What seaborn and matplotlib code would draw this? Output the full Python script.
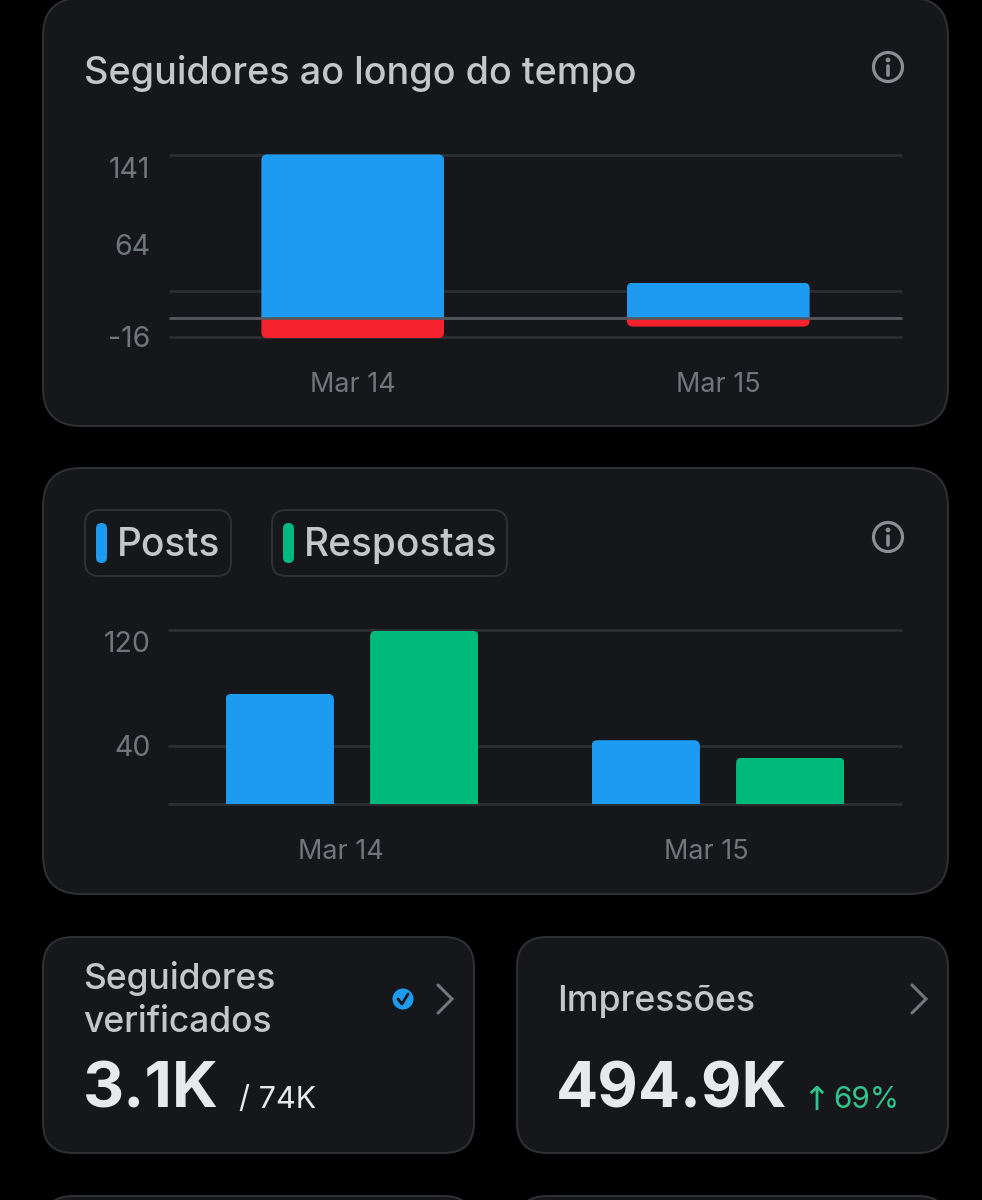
import matplotlib
matplotlib.use('Agg')
import matplotlib.pyplot as plt
import matplotlib.transforms as mtrans
from matplotlib.patches import FancyBboxPatch, Circle
import pandas as pd
import seaborn as sns

# Data
days = ['Mar 14', 'Mar 15']
gained = [141.5, 31]
lost = [-17, -7]
follower_ticks = [141, 64, -16]
follower_grid = [141, 24, -16]
posts = [76, 44]
replies = [119.5, 32]
activity_ticks = [120, 40]
activity_grid = [120, 40, 0]

BLACK = '#000000'
CARD = '#16171b'
BORDER = '#2f3135'
GRID = '#2c2e32'
ZERO = '#55585d'
BLUE = '#1d9bf0'
RED = '#f4212e'
GREEN = '#00ba7c'
TICK = '#71767b'
LABEL = '#c4c6ca'
WHITE = '#e7e9ea'
W, H = 982, 1200

sns.set_theme(style='dark')
plt.rcParams['font.family'] = ['Inter', 'DejaVu Sans']

fig = plt.figure(figsize=(W / 100, H / 100), dpi=100, facecolor=BLACK)
bg = fig.add_axes([0, 0, 1, 1])
bg.set_xlim(0, W)
bg.set_ylim(H, 0)
bg.set_facecolor(BLACK)
bg.axis('off')


def card(x0, y0, x1, y1, r=36, ec=BORDER, fc=CARD, lw=1.4):
    bg.add_patch(FancyBboxPatch((x0 + r, y0 + r), x1 - x0 - 2 * r, y1 - y0 - 2 * r,
                                boxstyle=f'round,pad={r},rounding_size={r}',
                                fc=fc, ec=ec, lw=lw))


def pill(x0, y0, x1, y1, color):
    r = (x1 - x0) / 2
    bg.add_patch(FancyBboxPatch((x0 + r, y0 + r), 0, y1 - y0 - 2 * r,
                                boxstyle=f'round,pad={r},rounding_size={r}',
                                fc=color, ec='none'))


def info_icon(x, y):
    bg.add_patch(Circle((x, y), 14.5, fc='none', ec='#8b8e93', lw=2.3))
    bg.add_patch(Circle((x, y - 7), 2.4, fc='#8b8e93', ec='none'))
    bg.plot([x, x], [y - 1.5, y + 8], color='#8b8e93', lw=2.6, solid_capstyle='round')


def chevron(x, y):
    bg.plot([x - 7, x + 7, x - 7], [y - 14, y, y + 14], color='#71767b', lw=2.2,
            solid_joinstyle='miter')


def chart_axes(x0, y0, x1, y1):
    ax = fig.add_axes([x0 / W, 1 - y1 / H, (x1 - x0) / W, (y1 - y0) / H])
    ax.patch.set_alpha(0)
    for s in ax.spines.values():
        s.set_visible(False)
    return ax


def style_ticks(ax, yticks, xpad):
    ax.set_xlim(-0.5, 1.5)
    ax.set_yticks(yticks)
    ax.set_yticklabels([str(t) for t in yticks])
    ax.tick_params(axis='y', length=0, pad=14, labelsize=20.5, labelcolor=TICK)
    ax.tick_params(axis='x', length=0, pad=xpad, labelsize=19.4, labelcolor=TICK)
    ax.set_xlabel('')
    ax.set_ylabel('')
    ax.grid(False)


def round_bar(bar, r=6, top=True, bottom=True):
    # clip the bar to a rounded box, stretched past the side that stays square
    box = bar.get_window_extent()
    x0, x1, y0, y1 = box.x0, box.x1, box.y0, box.y1
    if not top:
        y1 += 2 * r
    if not bottom:
        y0 -= 2 * r
    clip = FancyBboxPatch((x0 + r, y0 + r), x1 - x0 - 2 * r, y1 - y0 - 2 * r,
                          boxstyle=f'round,pad={r},rounding_size={r}',
                          transform=mtrans.IdentityTransform())
    bar.set_linewidth(0)
    bar.set_edgecolor('none')
    bar.set_clip_box(None)
    bar.set_clip_on(True)
    bar.set_clip_path(clip)


def shift_label(label, dx=0, dy=0):
    label.set_transform(label.get_transform() +
                        mtrans.ScaledTranslation(dx / 100, -dy / 100, fig.dpi_scale_trans))


# Cards
card(43, -2, 948, 426, r=38)
card(43, 468, 948, 894, r=38)
card(43, 937, 474, 1153, r=30)
card(517, 937, 948, 1153, r=30)
card(43, 1196, 474, 1300, r=30)
card(517, 1196, 948, 1300, r=30)

# Followers chart
bg.text(84, 73, 'Seguidores ao longo do tempo', color=LABEL, fontsize=27.2,
        fontweight='medium', va='center', ha='left')
info_icon(888, 67)

df1 = pd.DataFrame({'day': days, 'gained': gained, 'lost': lost})
ax1 = chart_axes(170, 155, 901, 337)
sns.barplot(data=df1, x='day', y='gained', color=BLUE, width=0.5, saturation=1, ax=ax1, zorder=3)
sns.barplot(data=df1, x='day', y='lost', color=RED, width=0.5, saturation=1, ax=ax1, zorder=3)
style_ticks(ax1, follower_ticks, 25)
ax1.set_ylim(-16, 141)
for g in follower_grid:
    ax1.axhline(g, color=GRID, lw=2, zorder=1, clip_on=False)
ax1.axhline(0, color=ZERO, lw=2, zorder=4, clip_on=False)
for bar in ax1.patches:
    round_bar(bar, top=bar.get_height() > 0, bottom=bar.get_height() < 0)
shift_label(ax1.get_yticklabels()[0], dy=13)

# Posts / replies chart
bg.add_patch(FancyBboxPatch((99, 524), 118, 38, boxstyle='round,pad=14,rounding_size=14',
                            fc='none', ec=BORDER, lw=1.4))
bg.add_patch(FancyBboxPatch((286, 524), 207, 38, boxstyle='round,pad=14,rounding_size=14',
                            fc='none', ec=BORDER, lw=1.4))
pill(96, 523, 107, 563, BLUE)
pill(283, 523, 294, 563, GREEN)
bg.text(117, 546, 'Posts', color=LABEL, fontsize=28, fontweight='medium', va='center', ha='left')
bg.text(304, 546, 'Respostas', color=LABEL, fontsize=28, fontweight='medium', va='center', ha='left')
info_icon(888, 537)

df2 = pd.DataFrame({'day': days * 2,
                    'value': posts + replies,
                    'kind': ['Posts'] * 2 + ['Respostas'] * 2})
ax2 = chart_axes(169, 630, 901, 804)
sns.barplot(data=df2, x='day', y='value', hue='kind', palette=[BLUE, GREEN], width=0.79,
            gap=0.25, saturation=1, legend=False, ax=ax2, zorder=3)
style_ticks(ax2, activity_ticks, 25.3)
ax2.set_ylim(0, 120)
for g in activity_grid:
    ax2.axhline(g, color=GRID, lw=2, zorder=1, clip_on=False)
for bar in ax2.patches:
    round_bar(bar, bottom=False)
shift_label(ax2.get_yticklabels()[0], dy=12)
for lab in ax2.get_xticklabels():
    shift_label(lab, dx=-11.5)
for lab in ax2.get_yticklabels():
    shift_label(lab, dx=1)

# Stat cards
bg.text(83.5, 978.5, 'Seguidores', color=LABEL, fontsize=25.5, fontweight='medium', va='center')
bg.text(83.5, 1022.5, 'verificados', color=LABEL, fontsize=25.5, fontweight='medium', va='center')
bg.add_patch(Circle((403, 999), 10.5, fc=BLUE, ec='none'))
bg.plot([398, 402, 408], [999, 1004, 994], color=CARD, lw=2)
chevron(445, 999)
bg.text(83, 1091, '3.1K', color=WHITE, fontsize=46, fontweight='bold', va='center')
bg.text(239, 1100, '/ 74K', color=WHITE, fontsize=22, va='center')

bg.text(557, 1001, 'Impressões', color=LABEL, fontsize=25.7, fontweight='medium', va='center')
chevron(919, 999)
bg.text(556, 1091, '494.9K', color=WHITE, fontsize=45, fontweight='bold', va='center')
bg.text(802, 1100, '↑', color='#2fc58c', fontsize=24, va='center', family='DejaVu Sans')
bg.text(833, 1100, '69%', color='#2fc58c', fontsize=21.5, va='center')

fig.savefig('out.png', dpi=100, facecolor=BLACK)
